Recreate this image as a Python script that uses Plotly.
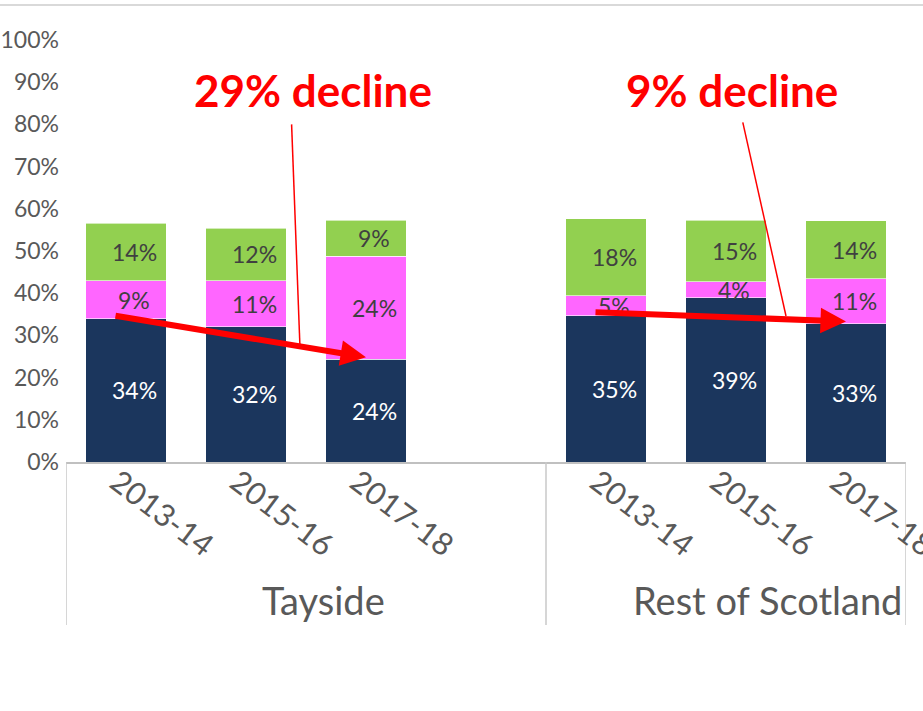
import plotly.graph_objects as go

# === Data ===
periods = ['2013-14', '2015-16', '2017-18']
regions = ['Tayside', 'Rest of Scotland']

tayside_navy = [33.9, 32.1, 24.3]
tayside_pink = [9.1, 10.9, 24.4]
tayside_green = [13.6, 12.4, 8.6]

rest_navy = [34.7, 38.9, 32.8]
rest_pink = [4.7, 3.8, 10.6]
rest_green = [18.2, 14.6, 13.8]

declines = ['29% decline', '9% decline']

# slots: Tayside 0..2, empty slot 3, Rest of Scotland 4..6
x_pos = list(range(3)) + [4 + i for i in range(3)]
navy = tayside_navy + rest_navy
pink = tayside_pink + rest_pink
green = tayside_green + rest_green

NAVY = '#1B365D'
PINK = '#FF66FF'
GREEN = '#92D050'
RED = '#FF0000'
GREY_TXT = '#595959'
FONT = 'Lato, Open Sans, sans-serif'

fig = go.Figure()
for vals, col, name in [(navy, NAVY, 'Segment 1'), (pink, PINK, 'Segment 2'), (green, GREEN, 'Segment 3')]:
    fig.add_trace(go.Bar(
        x=x_pos, y=vals, name=name,
        marker=dict(color=col, line=dict(color='rgba(255,255,255,0.6)', width=1)),
        hoverinfo='skip'
    ))

annotations = []

# === Data labels (centred in each segment) ===
for i, x in enumerate(x_pos):
    base = 0
    for vals, tcol in [(navy, 'white'), (pink, '#404040'), (green, '#404040')]:
        v = vals[i]
        annotations.append(dict(
            x=x, y=base + v / 2, xref='x', yref='y', text=f'{round(v)}%',
            showarrow=False, xshift=8,
            font=dict(family=FONT, size=23, color=tcol)
        ))
        base += v

# === Category labels (rotated) ===
for x, p in zip(x_pos, periods * 2):
    annotations.append(dict(
        x=x, y=0, xref='x', yref='paper', text=p, showarrow=False,
        textangle=37, xshift=36, yshift=-50, yanchor='middle', xanchor='center',
        font=dict(family=FONT, size=31, color=GREY_TXT)
    ))

# === Group labels ===
annotations.append(dict(
    x=1.5, y=0, xref='x', yref='paper', text=regions[0], showarrow=False,
    xshift=17, yshift=-138, yanchor='middle',
    font=dict(family=FONT, size=38, color=GREY_TXT)
))
annotations.append(dict(
    x=6.5, y=0, xref='x', yref='paper', text=regions[1], showarrow=False,
    xanchor='right', xshift=-2, yshift=-138, yanchor='middle',
    font=dict(family=FONT, size=38, color=GREY_TXT)
))

# === Decline arrows: from first to last navy bar top ===
for navy_vals, xs in [(tayside_navy, x_pos[:3]), (rest_navy, x_pos[3:])]:
    annotations.append(dict(
        x=xs[-1], y=navy_vals[-1] + 0.5, ax=xs[0] - 0.1, ay=navy_vals[0] + 0.8,
        xref='x', yref='y', axref='x', ayref='y', text='',
        showarrow=True, arrowhead=2, arrowsize=0.85, arrowwidth=6, arrowcolor=RED
    ))

# === Decline text ===
annotations.append(dict(
    x=1.56, y=88.2, xref='x', yref='y', text=f'<b>{declines[0]}</b>', showarrow=False,
    font=dict(family=FONT, size=44, color=RED)
))
annotations.append(dict(
    x=5.05, y=88.2, xref='x', yref='y', text=f'<b>{declines[1]}</b>', showarrow=False,
    font=dict(family=FONT, size=44, color=RED)
))

shapes = [
    # callout lines
    dict(type='line', xref='x', yref='y', x0=1.38, y0=80, x1=1.45, y1=27,
         line=dict(color=RED, width=1.5)),
    dict(type='line', xref='x', yref='y', x0=5.14, y0=80.5, x1=5.5, y1=34.6,
         line=dict(color=RED, width=1.5)),
    # top border
    dict(type='line', xref='paper', yref='paper', x0=-0.1, x1=1.05, y0=1.083, y1=1.083,
         line=dict(color='#d9d9d9', width=2)),
]
# group dividers below the axis
for xd in [-0.5, 3.5, 6.5]:
    shapes.append(dict(type='line', xref='x', yref='paper', x0=xd, x1=xd, y0=0, y1=-0.386,
                       line=dict(color='#c8c8c8', width=1.5)))

fig.update_layout(
    barmode='stack',
    bargap=0.333,
    width=923, height=711,
    paper_bgcolor='white',
    plot_bgcolor='white',
    showlegend=False,
    margin=dict(l=66, r=17, t=40, b=249),
    annotations=annotations,
    shapes=shapes,
    font=dict(family=FONT, color=GREY_TXT),
)

fig.update_xaxes(
    range=[-0.5, 6.5], showticklabels=False, showgrid=False, zeroline=False,
    showline=True, linecolor='#c0c0c0', linewidth=2, ticks='', automargin=False
)
fig.update_yaxes(
    range=[0, 100], tickvals=list(range(0, 101, 10)),
    ticktext=[f'{v}%' for v in range(0, 101, 10)],
    showgrid=False, zeroline=False, showline=False, ticks='', automargin=False,
    tickfont=dict(family=FONT, size=23, color=GREY_TXT), ticklabelstandoff=6
)

# drop the default page margin so the figure sits at the window's top-left corner
fig.write_html('out.html', config={'displayModeBar': False},
               post_script="document.body.style.margin='0';")
